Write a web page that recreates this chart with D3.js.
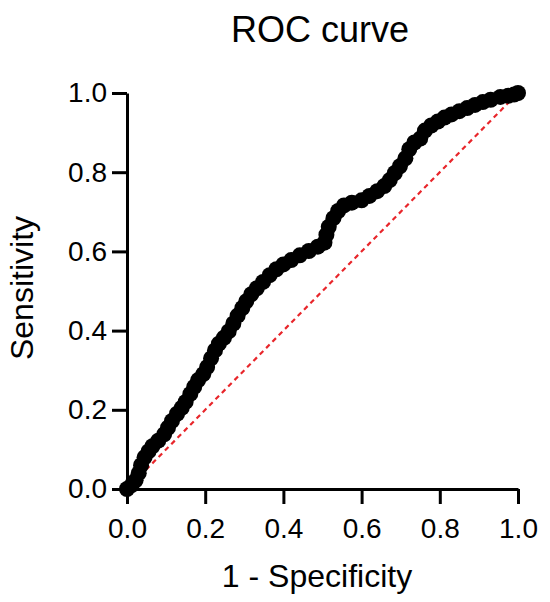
<!DOCTYPE html>
<html>
<head>
<meta charset="utf-8">
<script src="https://cdn.jsdelivr.net/npm/d3@7"></script>
<style>
  body { margin: 0; background: #fff; }
  svg { font-family: "Liberation Sans", Arial, sans-serif; }
</style>
</head>
<body>
<div id="chart"></div>
<script>
// ROC points (1 - specificity, sensitivity)
const fpr = [0.000, 0.012, 0.022, 0.030, 0.036, 0.045, 0.055, 0.065, 0.080, 0.095,
  0.105, 0.115, 0.128, 0.140, 0.150, 0.162, 0.172, 0.182, 0.195, 0.205,
  0.215, 0.225, 0.235, 0.248, 0.260, 0.272, 0.283, 0.295, 0.305, 0.318,
  0.332, 0.348, 0.365, 0.382, 0.400, 0.420, 0.442, 0.465, 0.488, 0.505,
  0.510, 0.516, 0.528, 0.540, 0.555, 0.575, 0.600, 0.620, 0.640, 0.658,
  0.672, 0.685, 0.698, 0.712, 0.722, 0.735, 0.750, 0.762, 0.778, 0.795,
  0.812, 0.830, 0.850, 0.870, 0.890, 0.910, 0.930, 0.955, 0.975, 0.990, 1.000];
const tpr = [0.000, 0.010, 0.022, 0.040, 0.060, 0.080, 0.095, 0.108, 0.122, 0.138,
  0.155, 0.172, 0.190, 0.205, 0.220, 0.240, 0.258, 0.275, 0.290, 0.308,
  0.330, 0.350, 0.367, 0.382, 0.398, 0.418, 0.438, 0.457, 0.474, 0.492,
  0.507, 0.523, 0.540, 0.555, 0.567, 0.578, 0.590, 0.601, 0.612, 0.622,
  0.642, 0.662, 0.684, 0.702, 0.716, 0.723, 0.729, 0.740, 0.752, 0.765,
  0.780, 0.798, 0.815, 0.835, 0.858, 0.875, 0.885, 0.905, 0.918, 0.928,
  0.938, 0.946, 0.954, 0.962, 0.970, 0.977, 0.983, 0.990, 0.993, 0.996, 1.000];
const xTicks = [0, 0.2, 0.4, 0.6, 0.8, 1.0];
const yTicks = [0, 0.2, 0.4, 0.6, 0.8, 1.0];
const refLine = [[0, 0], [1, 1]];

const width = 550, height = 602;

const svg = d3.select('#chart').append('svg')
    .attr('width', width)
    .attr('height', height);

const x = d3.scaleLinear().domain([0, 1]).range([127, 518]);
const y = d3.scaleLinear().domain([0, 1]).range([489, 93]);

const points = fpr.map((d, i) => ({fx: d, sy: tpr[i]}));

// chance line
svg.append('path')
    .datum(refLine)
    .attr('fill', 'none')
    .attr('stroke', '#e8262b')
    .attr('stroke-width', 2.2)
    .attr('stroke-dasharray', '5,4')
    .attr('d', d3.line().x(d => x(d[0])).y(d => y(d[1])));

// axes
const xAxis = svg.append('g')
    .attr('transform', `translate(0,${y(0)})`)
    .call(d3.axisBottom(x).tickValues(xTicks).tickSize(15).tickSizeOuter(0)
        .tickPadding(14).tickFormat(d3.format('.1f')));

const yAxis = svg.append('g')
    .attr('transform', `translate(${x(0)},0)`)
    .call(d3.axisLeft(y).tickValues(yTicks).tickSize(15).tickSizeOuter(0)
        .tickPadding(5).tickFormat(d3.format('.1f')));

[xAxis, yAxis].forEach(g => {
    g.select('.domain').attr('stroke', '#000').attr('stroke-width', 3);
    g.selectAll('.tick line').attr('stroke', '#000').attr('stroke-width', 3);
    g.selectAll('.tick text')
        .attr('fill', '#000')
        .style('font-size', '28px')
        .style('font-family', '"Liberation Sans", Arial, sans-serif');
});

// curve
svg.append('path')
    .datum(points)
    .attr('fill', 'none')
    .attr('stroke', '#000')
    .attr('stroke-width', 3)
    .attr('d', d3.line().x(d => x(d.fx)).y(d => y(d.sy)));

svg.append('g')
    .selectAll('circle')
    .data(points)
    .enter()
    .append('circle')
    .attr('cx', d => x(d.fx))
    .attr('cy', d => y(d.sy))
    .attr('r', 8)
    .attr('fill', '#000');

// titles
svg.append('text')
    .attr('x', 320).attr('y', 42)
    .attr('text-anchor', 'middle')
    .style('font-size', '36px')
    .text('ROC curve');

svg.append('text')
    .attr('x', 317).attr('y', 587)
    .attr('text-anchor', 'middle')
    .style('font-size', '32px')
    .text('1 - Specificity');

svg.append('text')
    .attr('transform', 'translate(33,288) rotate(-90)')
    .attr('text-anchor', 'middle')
    .style('font-size', '32px')
    .text('Sensitivity');
</script>
</body>
</html>
